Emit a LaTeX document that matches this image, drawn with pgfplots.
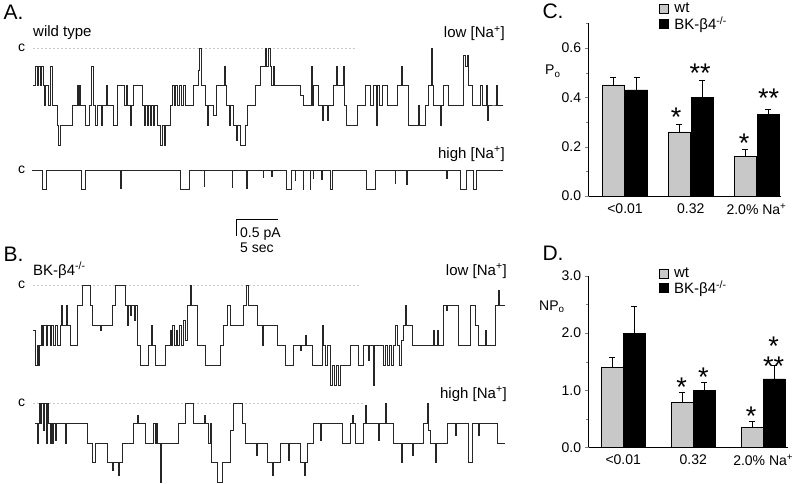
\documentclass[border=0pt]{standalone}
\usepackage{pgfplots}
\pgfplotsset{compat=1.18}
\usepackage{fontspec}
\setmainfont{Liberation Sans}
\definecolor{lgray}{RGB}{200,200,200}
\definecolor{dgray}{RGB}{200,200,200}
\newcommand{\fs}[1]{\fontsize{#1}{#1}\selectfont}
\pgfplotsset{
  errplot/.style={draw=none, mark=none, forget plot,
    error bars/.cd, y dir=plus, y explicit,
    error bar style={black, line width=0.6pt},
    error mark options={rotate=90, black, mark size=3pt, line width=0.6pt}},
  barpanel/.style={scale only axis,
    axis lines*=left, axis line style={line width=0.5pt},
    tick align=outside, major tick length=4pt, minor tick length=2.5pt,
    xtick={0,1,2}, xticklabels={{<0.01},{0.32},{2.0\% Na\textsuperscript{+}}},
    x tick style={draw=none},
    /pgf/number format/assume math mode=true,
    yticklabel style={/pgf/number format/.cd, fixed, fixed zerofill, precision=1},
    tick label style={font=\fs{14}},
    legend image code/.code={\draw[##1, draw=black, line width=0.5pt] (0pt,-4.5pt) rectangle (9pt,4.5pt);},
    legend style={anchor=north west, draw=none, fill=none,
      font=\fs{15}, inner sep=0pt, row sep=0pt, nodes={inner sep=1pt},
      /tikz/every odd column/.append style={column sep=5pt}},
    legend cell align=left}
}
\begin{document}
\begin{tikzpicture}
\useasboundingbox (0,0) rectangle (803pt,484pt);
% ---------- canvas axis holding the traces (pixel coordinates) ----------
\begin{axis}[at={(0pt,0pt)}, anchor=south west, scale only axis,
  width=803pt, height=484pt, xmin=0, xmax=803, ymin=0, ymax=484,
  y dir=reverse, hide axis, clip=false]
% closed-level dashed lines
\addplot[dgray, dash pattern=on 2pt off 2pt, line width=0.4pt] coordinates {(33,48.3) (357,48.3)};
\addplot[dgray, dash pattern=on 2pt off 2pt, line width=0.4pt] coordinates {(33,285) (360,285)};
\addplot[dgray, dash pattern=on 2pt off 2pt, line width=0.4pt] coordinates {(33,403.3) (363,403.3)};
% A, low Na
\addplot[const plot, black!85, line width=0.55pt] coordinates {
(33,85) (35,66) (37,85) (38,66) (40,85) (41,66) (43,85) (44,105) (45,85) (48,105) (50,66) (52,105) (57,125) (58,145) (60,125) (72,105) (77,85) (78,105) (79,85) (80,105) (85,125) (89,105) (91,66) (93,105) (95,125) (97,105) (101,125) (102,105) (106,85) (107,105) (113,125) (117,85) (124,105) (126,85) (127,105) (130,125) (131,105) (133,85) (142,105) (144,125) (145,105) (147,125) (148,105) (150,125) (151,105) (153,125) (154,105) (157,125) (160,145) (162,125) (164,145) (165,125) (170,105) (172,85) (174,105) (175,85) (177,105) (179,85) (181,105) (183,85) (185,105) (193,85) (198,70) (199,48) (201,85) (205,105) (207,125) (208,105) (213,115) (216,85) (224,66) (225,85) (226,105) (229,125) (230,105) (233,125) (236,140) (237,125) (240,145) (245,125) (247,105) (255,85) (260,66) (265,48) (266,66) (268,48) (270,66) (271,85) (273,66) (274,85) (300,95) (303,105) (311,66) (312,105) (313,85) (318,105) (322,120) (323,105) (327,120) (328,105) (333,85) (336,66) (337,85) (343,66) (344,105) (346,125) (357,105) (365,85) (370,105) (373,85) (376,125) (377,85) (379,105) (382,85) (387,105) (397,85) (401,66) (402,85) (408,125) (418,105) (419,125) (425,105) (428,85) (431,48) (432,85) (433,105) (440,125) (441,105) (443,85) (448,105) (463,55) (465,66) (467,55) (468,85) (472,105) (480,85) (482,105) (486,85) (487,120) (488,105) (495,105) (496,85) (497,105) (503,105)};
% A, high Na
\addplot[const plot, black!85, line width=0.5pt] coordinates {
(32,170) (42.7,189) (46,170) (81.7,189) (85,170) (120.5,188) (121.2,170) (180,189) (189.3,170) (204,186) (204.7,170) (232,187) (232.7,170) (246.5,188) (247.2,170) (263,177) (263.7,170) (271.5,176) (272.2,170) (286.7,189) (291.7,170) (295,180) (295.7,170) (303,189) (303.7,170) (310,189) (310.7,170) (313,178) (313.7,170) (321.5,179) (322.2,170) (330,189) (332.7,170) (366.7,189) (375,170) (395,183) (395.7,170) (406.7,184) (407.4,170) (446.7,178) (447.4,170) (460,189) (466.7,170) (473.3,189) (476,170) (503,170)};
% B, low Na
\addplot[const plot, black!85, line width=0.55pt] coordinates {
(33,330) (35,365) (37,345) (38,365) (39,345) (41,325) (42,345) (43,325) (46,345) (47,325) (50,345) (51,325) (53,345) (55,325) (57,345) (60,325) (61,305) (62,325) (66,305) (67,325) (70,345) (77,305) (82,285) (90,305) (92,325) (100,330) (101,325) (112,305) (115,285) (125,305) (127,325) (128,305) (130,315) (131,305) (134,320) (135,305) (137,345) (140,365) (148,345) (151,325) (152,345) (155,365) (165,345) (170,330) (171,345) (172,325) (174,345) (176,330) (177,345) (179,325) (181,345) (183,320) (185,340) (187,305) (190,285) (191,305) (197,345) (205,365) (220,345) (223,325) (227,305) (230,325) (243,305) (246,285) (248,305) (257,325) (262,345) (263,325) (277,345) (285,365) (293,345) (300,350) (301,345) (305,335) (306,345) (312,365) (322,325) (323,345) (325,365) (327,345) (330,385) (332,365) (334,385) (336,365) (338,385) (340,365) (350,345) (358,365) (363,345) (368,360) (369,345) (373,385) (374,345) (383,365) (385,345) (387,365) (389,345) (391,365) (393,345) (395,325) (397,345) (399,365) (401,340) (403,325) (405,305) (406,325) (412,345) (433,330) (434,345) (437,330) (438,345) (443,305) (446,310) (447,305) (458,345) (470,305) (475,325) (478,345) (485,330) (486,345) (495,305) (498,290) (499,305) (505,305)};
% B, high Na
\addplot[const plot, black!85, line width=0.55pt] coordinates {
(35,423) (37,443) (38,423) (39,403) (40,423) (41,403) (43,430) (44,403) (46,443) (47,403) (48,423) (50,443) (51,423) (52,443) (53,423) (55,440) (56,423) (65,443) (66,423) (87,443) (92,462) (95,443) (107,462) (112,470) (113,462) (118,475) (119,462) (122,443) (133,423) (137,415) (138,423) (145,443) (153,423) (155,443) (156,423) (157,443) (160,482) (161,443) (178,423) (185,403) (193,423) (204,415) (205,423) (208,443) (210,423) (211,462) (217,482) (222,462) (230,430) (233,403) (242,423) (245,443) (256,455) (257,443) (267,462) (272,475) (273,462) (280,443) (288,460) (289,443) (300,462) (304,475) (305,462) (307,443) (313,423) (320,440) (321,423) (342,443) (350,423) (352,415) (353,423) (355,443) (363,423) (365,405) (366,423) (378,440) (379,423) (385,403) (386,423) (393,443) (401,462) (402,443) (412,455) (413,443) (423,423) (427,403) (428,430) (430,443) (435,462) (436,443) (447,423) (455,435) (456,423) (468,462) (472,423) (478,435) (479,423) (497,443) (505,443)};
% texts of panels A and B
\node[anchor=base west, font=\fs{21}] at (axis cs:0,19.5) {A.};
\node[anchor=base west, font=\fs{21}] at (axis cs:0,261) {B.};
\node[anchor=base west, font=\fs{21}] at (axis cs:539,18.5) {C.};
\node[anchor=base west, font=\fs{21}] at (axis cs:539,260) {D.};
\node[anchor=base west, font=\fs{15}, inner sep=0pt] at (axis cs:33,37) {wild type};
\node[anchor=base east, font=\fs{15}, inner sep=0pt] at (axis cs:505,38) {low [Na\textsuperscript{+}]};
\node[anchor=base east, font=\fs{15}, inner sep=0pt] at (axis cs:505,158) {high [Na\textsuperscript{+}]};
\node[anchor=base west, font=\fs{15}, inner sep=0pt] at (axis cs:33,275) {BK-β4\textsuperscript{-/-}};
\node[anchor=base east, font=\fs{15}, inner sep=0pt] at (axis cs:507,275) {low [Na\textsuperscript{+}]};
\node[anchor=base east, font=\fs{15}, inner sep=0pt] at (axis cs:507,398) {high [Na\textsuperscript{+}]};
\node[font=\fs{14}, inner sep=0pt] at (axis cs:21.5,48) {c};
\node[font=\fs{14}, inner sep=0pt] at (axis cs:21.5,170) {c};
\node[font=\fs{14}, inner sep=0pt] at (axis cs:21.5,285) {c};
\node[font=\fs{14}, inner sep=0pt] at (axis cs:21.5,403) {c};
% scale bar
\draw[black, line width=0.6pt] (axis cs:236.7,236) -- (axis cs:236.7,219.5) -- (axis cs:277.7,219.5);
\node[anchor=base west, font=\fs{14}, inner sep=0pt] at (axis cs:240,237) {0.5 pA};
\node[anchor=base west, font=\fs{14}, inner sep=0pt] at (axis cs:240,252) {5 sec};
% ylabels
\node[anchor=base west, font=\fs{14}, inner sep=0pt] at (axis cs:545,75) {P\textsubscript{o}};
\node[anchor=base west, font=\fs{14}, inner sep=0pt] at (axis cs:539,310) {NP\textsubscript{o}};
% significance asterisks
\node[anchor=base, font=\fs{27}, inner sep=0pt] at (axis cs:676,127) {*};
\node[anchor=base, font=\fs{27}, inner sep=0pt] at (axis cs:700,82.5) {**};
\node[anchor=base, font=\fs{27}, inner sep=0pt] at (axis cs:744,152.5) {*};
\node[anchor=base, font=\fs{27}, inner sep=0pt] at (axis cs:768.5,108) {**};
\node[anchor=base, font=\fs{27}, inner sep=0pt] at (axis cs:681.7,396) {*};
\node[anchor=base, font=\fs{27}, inner sep=0pt] at (axis cs:703.3,386) {*};
\node[anchor=base, font=\fs{27}, inner sep=0pt] at (axis cs:751,425.5) {*};
\node[anchor=north, align=center, font=\fontsize{27}{17}\selectfont, inner sep=0pt] at (axis cs:773.6,336.8) {*\\**};
\end{axis}
% ---------- C: Po ----------
\begin{axis}[barpanel, at={(588.7pt,288pt)}, anchor=south west,
  width=192pt, height=172.7pt,
  xmin=-0.552, xmax=2.368, ymin=0, ymax=0.7,
  ytick={0,0.2,0.4,0.6}, minor ytick={0.1,0.3,0.5,0.7},
  legend style={at={(axis description cs:0.365,1.123)}}]
\addplot[ybar, bar width=22pt, bar shift=-11.5pt, fill=lgray, draw=black, line width=0.5pt]
  coordinates {(0,0.45) (1,0.26) (2,0.16)};
\addplot[ybar, bar width=22pt, bar shift=11.5pt, fill=black, draw=black, line width=0.5pt]
  coordinates {(0,0.43) (1,0.40) (2,0.33)};
\addplot[errplot] coordinates {(-0.175,0.45) +- (0,0.03) (0.825,0.26) +- (0,0.03) (1.825,0.16) +- (0,0.028)};
\addplot[errplot] coordinates {(0.175,0.43) +- (0,0.05) (1.175,0.40) +- (0,0.07) (2.175,0.33) +- (0,0.022)};
\legend{wt, BK-β4\textsuperscript{-/-}}
\end{axis}
% ---------- D: NPo ----------
\begin{axis}[barpanel, at={(588.7pt,36.7pt)}, anchor=south west,
  width=199.3pt, height=171.3pt,
  xmin=-0.493, xmax=2.354, ymin=0, ymax=3.0,
  ytick={0,1,2,3}, minor ytick={0.5,1.5,2.5},
  legend style={at={(axis description cs:0.35,1.055)}}]
\addplot[ybar, bar width=21.5pt, bar shift=-11pt, fill=lgray, draw=black, line width=0.5pt]
  coordinates {(0,1.40) (1,0.79) (2,0.35)};
\addplot[ybar, bar width=21.5pt, bar shift=11pt, fill=black, draw=black, line width=0.5pt]
  coordinates {(0,2.00) (1,1.00) (2,1.20)};
\addplot[errplot] coordinates {(-0.157,1.40) +- (0,0.18) (0.843,0.79) +- (0,0.18) (1.843,0.35) +- (0,0.10)};
\addplot[errplot] coordinates {(0.157,2.00) +- (0,0.47) (1.157,1.00) +- (0,0.13) (2.157,1.20) +- (0,0.23)};
\legend{wt, BK-β4\textsuperscript{-/-}}
\end{axis}
\end{tikzpicture}
\end{document}
